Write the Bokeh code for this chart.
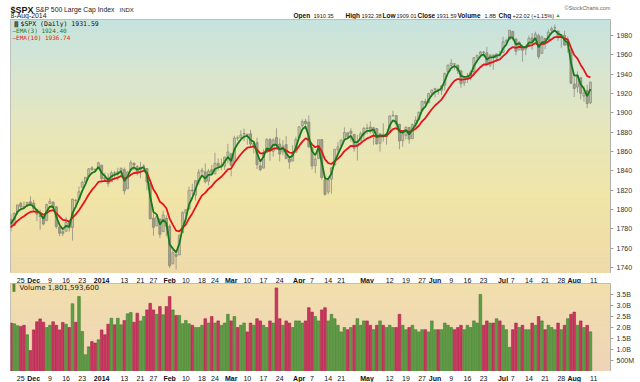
import pandas as pd
from bokeh.plotting import figure
from bokeh.layouts import column
from bokeh.models import (ColumnDataSource, FixedTicker, Range1d, Label, BoxAnnotation,
                          CDSView, IndexFilter)
from bokeh.embed import file_html
from bokeh.resources import INLINE
from bokeh.core.properties import value

# ---------------- data ----------------
holidays = ["2013-11-28", "2013-12-25", "2014-01-01", "2014-01-20", "2014-02-17",
            "2014-04-18", "2014-05-26", "2014-07-04"]
dates = [d for d in pd.bdate_range("2013-11-20", "2014-08-08")
         if d.strftime("%Y-%m-%d") not in holidays]

# closes before the window (used only to warm up the moving averages)
warmup_closes = [1770.49, 1747.15, 1770.61, 1771.89, 1767.69, 1782.00, 1790.62, 1798.18, 1791.53, 1787.87]

closes = [
    1781.37, 1795.85, 1804.76, 1802.75, 1802.48, 1807.23, 1805.81,
    1800.90, 1795.15, 1792.81, 1785.03, 1805.09, 1808.37, 1802.62, 1782.22, 1775.50, 1775.32, 1786.54,
    1781.00, 1810.65, 1809.60, 1818.32, 1827.99, 1833.32, 1842.02, 1841.40, 1841.07, 1848.36,
    1831.98, 1831.37, 1826.77, 1837.88, 1837.49, 1838.13, 1842.37, 1819.20, 1838.88, 1848.38, 1845.89,
    1838.70, 1843.80, 1844.86, 1828.46, 1790.29, 1781.56, 1792.50, 1774.20, 1794.19, 1782.59,
    1741.89, 1755.20, 1751.64, 1773.43, 1797.02, 1799.84, 1819.75, 1819.26, 1829.83, 1838.63, 1840.76,
    1828.75, 1839.78, 1836.25, 1847.61, 1845.12, 1845.16, 1854.29, 1859.45,
    1845.73, 1873.91, 1873.81, 1877.03, 1878.04, 1877.17, 1867.63, 1868.20, 1846.34, 1841.13, 1858.83,
    1872.25, 1860.77, 1872.01, 1866.52, 1857.44, 1865.62, 1852.56, 1849.04, 1857.62, 1872.34,
    1885.52, 1890.90, 1888.77, 1865.09, 1845.04, 1851.96, 1872.18, 1833.08, 1815.69, 1830.61, 1842.98,
    1862.31, 1864.85, 1871.89, 1879.55, 1875.39, 1878.61, 1863.40, 1869.43, 1878.33, 1883.95,
    1883.68, 1881.14, 1884.66, 1867.72, 1878.21, 1875.63, 1878.48, 1896.65, 1897.45, 1888.53, 1870.85,
    1877.86, 1885.08, 1872.83, 1888.03, 1892.49, 1900.53, 1911.91, 1909.78, 1920.03, 1923.57,
    1924.97, 1924.24, 1927.88, 1940.46, 1949.44, 1951.27, 1950.79, 1943.89, 1930.11, 1936.16, 1937.78,
    1941.99, 1956.98, 1959.48, 1962.87, 1962.61, 1949.98, 1959.53, 1957.22, 1960.96, 1960.23,
    1973.32, 1974.62, 1985.44, 1977.65, 1963.71, 1972.83, 1964.68, 1967.57, 1977.10, 1973.28, 1981.57,
    1958.12, 1978.22, 1973.63, 1983.53, 1987.01, 1987.98, 1978.34, 1978.91, 1969.95, 1970.07, 1930.67,
    1925.15, 1938.99, 1920.21, 1920.24, 1909.57, 1931.59,
]
opens = [
    1789.6, 1783.5, 1797.2, 1806.3, 1802.9, 1803.5, 1808.0,
    1806.6, 1800.1, 1794.0, 1792.8, 1788.4, 1806.2, 1807.6, 1802.8, 1781.7, 1777.0, 1777.5,
    1786.5, 1781.5, 1809.0, 1810.4, 1822.9, 1828.0, 1834.0, 1843.0, 1841.5, 1842.6,
    1845.9, 1833.2, 1832.3, 1828.7, 1837.9, 1839.0, 1840.1, 1841.3, 1821.4, 1840.5, 1848.0,
    1844.2, 1841.1, 1844.7, 1842.3, 1827.0, 1791.0, 1783.0, 1790.2, 1777.2, 1790.9,
    1782.7, 1743.8, 1753.4, 1753.0, 1776.0, 1796.2, 1800.5, 1820.1, 1814.8, 1828.5, 1839.0,
    1838.9, 1829.2, 1841.1, 1836.8, 1847.7, 1845.8, 1844.9, 1855.1,
    1857.7, 1849.2, 1874.1, 1874.2, 1878.5, 1877.9, 1878.3, 1866.2, 1869.1, 1845.1, 1842.8,
    1858.9, 1872.3, 1860.1, 1874.5, 1867.7, 1859.5, 1867.1, 1852.1, 1850.1, 1859.2,
    1874.0, 1886.6, 1891.4, 1890.3, 1863.9, 1845.5, 1852.6, 1872.3, 1830.7, 1818.2, 1831.5,
    1846.0, 1861.7, 1865.8, 1872.6, 1879.3, 1881.0, 1877.7, 1865.0, 1870.8, 1877.1,
    1884.4, 1885.3, 1879.5, 1883.7, 1868.5, 1877.4, 1875.3, 1880.0, 1896.8, 1897.1, 1888.2,
    1871.2, 1876.7, 1884.9, 1873.3, 1888.2, 1893.3, 1902.0, 1911.8, 1910.6, 1920.3,
    1923.9, 1923.1, 1923.1, 1928.5, 1942.4, 1949.0, 1950.3, 1949.4, 1943.4, 1930.8, 1934.8,
    1937.2, 1942.7, 1957.5, 1960.5, 1962.9, 1962.0, 1949.3, 1959.9, 1956.6, 1960.8,
    1962.3, 1973.1, 1975.9, 1984.2, 1976.4, 1965.1, 1966.7, 1965.8, 1969.9, 1977.4, 1976.4,
    1979.8, 1961.5, 1976.9, 1975.6, 1985.3, 1988.1, 1984.6, 1978.3, 1980.0, 1973.2, 1965.1,
    1929.8, 1926.6, 1936.3, 1917.3, 1923.0, 1910.35,
]
highs = [
    1795.7, 1797.2, 1804.8, 1808.1, 1808.4, 1808.0, 1813.6,
    1810.0, 1800.1, 1799.8, 1792.8, 1806.0, 1811.5, 1808.5, 1803.0, 1782.4, 1780.0, 1792.2,
    1786.8, 1811.1, 1810.9, 1823.8, 1829.8, 1833.3, 1842.8, 1844.9, 1842.5, 1849.4,
    1846.0, 1838.2, 1837.2, 1840.1, 1840.0, 1843.2, 1843.9, 1843.5, 1839.3, 1850.8, 1848.0,
    1846.0, 1849.3, 1846.9, 1842.3, 1827.0, 1796.0, 1793.9, 1790.2, 1798.8, 1793.9,
    1784.8, 1758.7, 1755.8, 1774.1, 1798.0, 1799.9, 1823.5, 1826.6, 1830.3, 1841.7, 1842.9,
    1847.5, 1842.0, 1846.1, 1858.7, 1852.9, 1852.6, 1854.5, 1867.9,
    1857.7, 1876.2, 1876.5, 1881.9, 1883.6, 1877.9, 1882.4, 1868.4, 1874.4, 1852.4, 1862.3,
    1873.8, 1874.1, 1873.5, 1884.0, 1873.3, 1871.9, 1875.9, 1855.6, 1866.6, 1875.2,
    1885.8, 1893.2, 1893.8, 1897.3, 1864.0, 1855.0, 1872.4, 1872.5, 1835.1, 1834.2, 1844.0,
    1862.3, 1869.6, 1871.9, 1884.9, 1879.8, 1884.1, 1877.7, 1877.0, 1880.6, 1885.2,
    1888.6, 1891.3, 1885.5, 1883.7, 1878.8, 1889.1, 1878.6, 1897.1, 1902.2, 1897.1, 1888.2,
    1878.3, 1886.0, 1884.9, 1888.8, 1896.3, 1901.3, 1912.3, 1914.5, 1920.0, 1924.0,
    1925.9, 1925.1, 1928.6, 1941.7, 1949.4, 1955.6, 1950.9, 1949.4, 1943.4, 1937.3, 1941.2,
    1943.7, 1957.7, 1959.9, 1963.9, 1963.7, 1968.2, 1960.8, 1959.9, 1961.0, 1964.2,
    1978.6, 1976.7, 1985.6, 1984.2, 1976.4, 1974.2, 1969.8, 1968.7, 1979.9, 1982.5, 1983.9,
    1981.8, 1979.9, 1976.9, 1986.2, 1989.2, 1991.4, 1984.6, 1981.5, 1984.9, 1978.9, 1965.1,
    1937.4, 1942.9, 1936.3, 1927.9, 1928.9, 1932.38,
]
lows = [
    1777.2, 1783.5, 1794.7, 1800.6, 1800.8, 1802.9, 1805.6,
    1798.6, 1787.9, 1779.1, 1783.4, 1788.4, 1806.2, 1801.4, 1780.1, 1772.3, 1772.5, 1777.5,
    1777.2, 1767.9, 1801.7, 1810.4, 1822.9, 1828.0, 1834.0, 1839.8, 1838.8, 1842.4,
    1827.7, 1829.1, 1823.7, 1828.7, 1831.4, 1830.4, 1834.4, 1815.5, 1821.4, 1840.5, 1840.3,
    1835.2, 1832.4, 1840.9, 1820.1, 1790.3, 1772.9, 1783.0, 1770.5, 1777.2, 1772.3,
    1739.7, 1743.8, 1737.9, 1753.0, 1776.0, 1791.8, 1800.4, 1815.1, 1809.2, 1825.8, 1835.0,
    1827.0, 1824.9, 1835.6, 1836.8, 1840.2, 1840.7, 1841.1, 1847.7,
    1834.4, 1849.2, 1871.0, 1874.2, 1870.6, 1867.0, 1863.9, 1858.0, 1841.9, 1839.6, 1842.8,
    1858.9, 1850.4, 1854.6, 1863.5, 1849.7, 1856.0, 1852.6, 1842.1, 1850.1, 1859.2,
    1874.0, 1883.8, 1882.7, 1863.3, 1841.5, 1837.5, 1852.4, 1830.9, 1814.4, 1815.8, 1816.3,
    1846.0, 1856.7, 1863.2, 1872.6, 1873.9, 1870.2, 1859.7, 1850.6, 1870.8, 1872.7,
    1878.0, 1878.5, 1866.8, 1867.7, 1859.8, 1870.1, 1867.0, 1880.0, 1896.1, 1885.8, 1862.4,
    1864.8, 1872.4, 1868.1, 1873.3, 1885.4, 1893.3, 1902.0, 1907.3, 1909.8, 1916.6,
    1916.0, 1918.8, 1918.6, 1922.9, 1942.4, 1947.2, 1944.6, 1940.1, 1925.8, 1927.7, 1930.9,
    1933.6, 1937.9, 1952.3, 1959.2, 1958.2, 1948.3, 1947.5, 1944.7, 1952.7, 1958.2,
    1962.3, 1972.6, 1975.9, 1974.9, 1959.5, 1965.1, 1952.9, 1959.6, 1969.9, 1965.3, 1975.7,
    1955.6, 1960.8, 1965.8, 1975.6, 1982.4, 1985.8, 1974.4, 1967.3, 1970.0, 1962.4, 1930.0,
    1916.4, 1921.2, 1913.8, 1911.5, 1904.8, 1909.01,
]
# volume, billions of shares
volumes = [
    2.20, 2.17, 2.08, 2.05, 2.10, 1.67, 0.95,
    1.89, 2.26, 2.39, 2.24, 2.00, 2.10, 2.26, 2.10, 1.89, 2.23, 2.15, 2.00, 3.08, 2.24, 3.41,
    1.82, 0.76, 1.12, 1.36, 1.29, 1.44,
    1.89, 1.67, 2.15, 2.42, 2.12, 2.42, 2.12, 2.32, 2.62, 2.68, 2.24, 2.65, 2.30, 2.50, 2.80,
    3.10, 2.80, 2.60, 2.95, 2.58, 2.95,
    3.41, 2.80, 2.55, 2.55, 2.17, 2.32, 2.17, 2.10, 2.00, 2.00, 2.10, 2.40, 2.20, 2.50, 2.20,
    2.30, 2.10, 2.20, 2.60,
    2.30, 2.50, 2.00, 2.10, 2.20, 1.80, 2.20, 2.10, 2.40, 2.30, 2.10, 2.00, 2.30, 2.20, 3.80,
    2.40, 2.10, 2.30, 2.20, 2.00, 2.30,
    2.30, 2.20, 2.30, 2.90, 2.70, 2.50, 2.30, 2.80, 2.90, 2.30, 2.60, 2.40, 2.10, 1.80, 2.00,
    1.90, 2.00, 2.10, 2.40, 2.10, 2.30,
    2.30, 2.10, 1.90, 2.10, 2.30, 2.10, 2.00, 2.10, 2.00, 2.00, 2.60, 2.10, 1.90, 2.00, 2.10,
    1.90, 1.80, 1.90, 1.90, 1.80, 2.30,
    1.90, 1.90, 1.90, 2.20, 2.10, 2.00, 1.90, 2.00, 2.10, 1.90, 2.10, 2.00, 2.30, 2.20, 3.50,
    2.10, 2.30, 2.20, 2.20, 2.40, 2.30,
    2.10, 1.90, 1.10, 1.90, 2.20, 2.00, 2.10, 1.90, 1.90, 2.20, 2.10, 2.50, 2.30, 1.90, 2.10,
    2.00, 1.90, 2.20, 1.90, 2.10, 2.40, 2.60,
    2.70, 2.10, 2.30, 2.00, 2.10, 1.8016,
]

price_ticks = [1740, 1760, 1780, 1800, 1820, 1840, 1860, 1880, 1900, 1920, 1940, 1960, 1980]
volume_ticks = [0.5, 1.0, 1.5, 2.0, 2.5, 3.0, 3.5]
volume_tick_labels = ["500M", "1.0B", "1.5B", "2.0B", "2.5B", "3.0B", "3.5B"]

date_ticks = [
    ("2013-11-25", "25"), ("2013-12-02", "Dec"), ("2013-12-09", "9"), ("2013-12-16", "16"),
    ("2013-12-23", "23"), ("2014-01-02", "2014"), ("2014-01-13", "13"), ("2014-01-21", "21"),
    ("2014-01-27", "27"), ("2014-02-03", "Feb"), ("2014-02-10", "10"), ("2014-02-18", "18"),
    ("2014-02-24", "24"), ("2014-03-03", "Mar"), ("2014-03-10", "10"), ("2014-03-17", "17"),
    ("2014-03-24", "24"), ("2014-04-01", "Apr"), ("2014-04-07", "7"), ("2014-04-14", "14"),
    ("2014-04-21", "21"), ("2014-05-01", "May"), ("2014-05-12", "12"), ("2014-05-19", "19"),
    ("2014-05-27", "27"), ("2014-06-02", "Jun"), ("2014-06-09", "9"), ("2014-06-16", "16"),
    ("2014-06-23", "23"), ("2014-07-01", "Jul"), ("2014-07-07", "7"), ("2014-07-14", "14"),
    ("2014-07-21", "21"), ("2014-07-28", "28"), ("2014-08-01", "Aug"), ("2014-08-11", "11"),
]
bold_labels = {"Dec", "2014", "Feb", "Mar", "Apr", "May", "Jun", "Jul", "Aug"}

# ---------------- derived ----------------
n = len(closes)
idx = list(range(n))
date_strs = [d.strftime("%Y-%m-%d") for d in dates]


def date_index(s):
    return date_strs.index(s) if s in date_strs else n  # next trading day after the last bar


def ema(vals, period):
    k = 2.0 / (period + 1)
    out = [vals[0]]
    for v in vals[1:]:
        out.append(out[-1] + k * (v - out[-1]))
    return out


all_closes = warmup_closes + closes
all_idx = list(range(-len(warmup_closes), n))
ema3 = ema(all_closes, 3)
ema10 = ema(all_closes, 10)

prev = [warmup_closes[-1]] + closes[:-1]
up = [c >= o for c, o in zip(closes, opens)]
vol_up = [c >= p for c, p in zip(closes, prev)]

src = ColumnDataSource(dict(
    x=idx, open=opens, high=highs, low=lows, close=closes,
    top=[max(o, c) for o, c in zip(opens, closes)],
    bottom=[min(o, c) for o, c in zip(opens, closes)],
    vol=volumes,
    vcolor=["#5e9c46" if u else "#c9365f" for u in vol_up],
    vline=["#3f7d2c" if u else "#a82348" for u in vol_up],
))
up_view = [i for i in idx if up[i]]
dn_view = [i for i in idx if not up[i]]
tick_src = ColumnDataSource(dict(
    x=[date_index(d) for d, _ in date_ticks],
    text=[lab for _, lab in date_ticks],
    style=["bold" if lab in bold_labels else "normal" for _, lab in date_ticks],
))


def hexlerp(stops, t):
    for (t0, c0), (t1, c1) in zip(stops[:-1], stops[1:]):
        if t0 <= t <= t1:
            f = (t - t0) / (t1 - t0)
            a = [int(c0[i:i + 2], 16) for i in (1, 3, 5)]
            b = [int(c1[i:i + 2], 16) for i in (1, 3, 5)]
            return "#%02x%02x%02x" % tuple(int(round(a[j] + (b[j] - a[j]) * f)) for j in range(3))
    return stops[-1][1]


def gradient(p, lo, hi, stops, nb=60):
    step = (hi - lo) / nb
    for i in range(nb):
        p.add_layout(BoxAnnotation(bottom=lo + i * step, top=lo + (i + 1.02) * step,
                                   fill_color=hexlerp(stops, (i + 0.5) / nb), fill_alpha=1.0,
                                   line_alpha=0, level="underlay"))


FONT = "Liberation Sans"
XR = Range1d(-0.16, 185.2)
COMMON = dict(frame_width=600, output_backend="svg", toolbar_location=None,
              min_border_left=10, min_border_right=30, min_border_top=0, min_border_bottom=0,
              border_fill_color="white")


def strip(height, x_range):
    """A thin text-only strip that shares the chart's horizontal layout."""
    s = figure(frame_height=height, x_range=x_range, y_range=Range1d(0, height),
               x_axis_location=None, y_axis_location=None, outline_line_color=None,
               background_fill_color="white", **COMMON)
    s.grid.visible = False
    return s


def style_yaxis(p, ticks, overrides=None):
    ya = p.yaxis[0]
    ya.ticker = FixedTicker(ticks=ticks)
    if overrides:
        ya.major_label_overrides = overrides
    ya.major_label_text_font = FONT
    ya.major_label_text_font_size = "7px"
    ya.major_label_text_color = "#333333"
    ya.major_label_standoff = 3
    ya.major_tick_out = 3
    ya.major_tick_in = 0
    ya.minor_tick_out = 0
    ya.axis_line_color = "#a0a0a0"
    ya.axis_line_dash = "1 1"
    ya.major_tick_line_color = "#a0a0a0"


def date_strip(height, ymid):
    s = strip(height, XR)
    s.text(x="x", y=ymid, text="text", source=tick_src, text_font=value(FONT),
           text_font_size="7px", text_font_style="style", text_color="#111111",
           text_align="center", text_baseline="middle")
    return s


# ---------------- header strip ----------------
hdr_fig = strip(19, Range1d(0, 600))
R1, R2 = 9.6, 3.8   # baselines of the two header rows (pixels above the strip bottom)
B, V = "6.5px", "5.6px"
hdr = [
    (0, R1, "$SPX", "9px", "bold", "#111111", "left"),
    (25, R1 + 0.3, "S&P 500 Large Cap Index", "6.8px", "normal", "#222222", "left"),
    (109, R1 + 0.3, "INDX", "6px", "normal", "#222222", "left"),
    (0, R2, "8-Aug-2014", "6.9px", "normal", "#222222", "left"),
    (283, R2, "Open", B, "bold", "#111111", "left"),
    (303, R2, "1910.35", V, "normal", "#222222", "left"),
    (335, R2, "High", B, "bold", "#111111", "left"),
    (351, R2, "1932.38", V, "normal", "#222222", "left"),
    (372, R2, "Low", B, "bold", "#111111", "left"),
    (386, R2, "1909.01", V, "normal", "#222222", "left"),
    (407, R2, "Close", B, "bold", "#111111", "left"),
    (426, R2, "1931.59", V, "normal", "#222222", "left"),
    (447, R2, "Volume", B, "bold", "#111111", "left"),
    (474, R2, "1.8B", V, "normal", "#222222", "left"),
    (488, R2, "Chg", B, "bold", "#111111", "left"),
    (502, R2, "+22.02 (+1.15%)", V, "normal", "#222222", "left"),
    (545, R2 + 0.3, "\u25b2", "5px", "normal", "#2e9a2e", "left"),
    (600, 11.2, "\u00a9StockCharts.com", "5.5px", "normal", "#666666", "right"),
]
for x, y, t, fs, st, col, al in hdr:
    hdr_fig.add_layout(Label(x=x, y=y, text=t, text_font=FONT, text_font_size=fs,
                             text_font_style=st, text_color=col, text_align=al,
                             text_baseline="alphabetic"))

# ---------------- price panel ----------------
FH1 = 254
p1 = figure(frame_height=FH1, x_range=XR, y_range=Range1d(1733.8, 1996.5),
            y_axis_location="right", x_axis_location=None,
            background_fill_color="#e8e4c0", outline_line_color="#b5b5b5",
            outline_line_width=1, **COMMON)
p1.grid.visible = False
gradient(p1, 1733.8, 1996.5, [(0.0, "#efd9a9"), (0.3, "#f1e5a6"), (0.55, "#e7e6ba"),
                              (0.8, "#d6e5d2"), (1.0, "#c5e3df")])

p1.segment(x0="x", y0="low", x1="x", y1="high", source=src, line_color="#8e8d80",
           line_width=1, line_alpha=0.8)
p1.vbar(x="x", top="top", bottom="bottom", width=0.62, source=src,
        view=CDSView(filter=IndexFilter(up_view)),
        fill_color="#f4f1dc", fill_alpha=0.35, line_color="#8e8d80", line_alpha=0.85)
p1.vbar(x="x", top="top", bottom="bottom", width=0.62, source=src,
        view=CDSView(filter=IndexFilter(dn_view)),
        fill_color="#9d9b88", fill_alpha=0.8, line_color="#8a8878", line_alpha=0.85)
p1.line(all_idx, ema10, line_color="#e5141b", line_width=1.8)
p1.line(all_idx, ema3, line_color="#177a17", line_width=1.8)
style_yaxis(p1, price_ticks)

leg = [
    (10, FH1 - 4.3, "$SPX (Daily) 1931.59", "#111111", "6.5px"),
    (2, FH1 - 11, "\u2014EMA(3) 1924.40", "#177a17", "6px"),
    (2, FH1 - 17.7, "\u2014EMA(10) 1936.74", "#e5141b", "6px"),
]
for x, y, t, col, fs in leg:
    p1.add_layout(Label(x=x, y=y, x_units="screen", y_units="screen", text=t,
                        text_font="DejaVu Sans Mono", text_font_size=fs, text_color=col,
                        text_baseline="middle"))
p1.add_layout(Label(x=2, y=FH1 - 4.3, x_units="screen", y_units="screen", text="\u2590\u258c",
                    text_font="DejaVu Sans", text_font_size="5px", text_color="#555555",
                    text_baseline="middle"))

dates1 = date_strip(10, 5.5)

# ---------------- volume panel ----------------
FH2 = 88
p2 = figure(frame_height=FH2, x_range=XR, y_range=Range1d(0, 4.0),
            y_axis_location="right", x_axis_location=None,
            background_fill_color="#f0dab0", outline_line_color="#b5b5b5",
            outline_line_width=1, **COMMON)
p2.grid.visible = False
gradient(p2, 0, 4.0, [(0.0, "#efd3b8"), (1.0, "#f1dfac")], nb=24)
p2.vbar(x="x", top="vol", bottom=0, width=0.82, source=src, fill_color="vcolor",
        line_color="vline", line_width=0.6)
style_yaxis(p2, volume_ticks, {t: l for t, l in zip(volume_ticks, volume_tick_labels)})

p2.add_layout(Label(x=2, y=FH2 - 4.5, x_units="screen", y_units="screen", text="\u258c",
                    text_font="DejaVu Sans", text_font_size="7px", text_color="#4a8a36",
                    text_baseline="middle"))
p2.add_layout(Label(x=9, y=FH2 - 4.5, x_units="screen", y_units="screen",
                    text="Volume 1,801,593,600", text_font="DejaVu Sans", text_font_size="7px",
                    text_color="#222222", text_baseline="middle"))

dates2 = date_strip(11, 5.0)

layout = column(hdr_fig, p1, dates1, p2, dates2, spacing=0)
open("out.html", "w").write(file_html(layout, INLINE))
